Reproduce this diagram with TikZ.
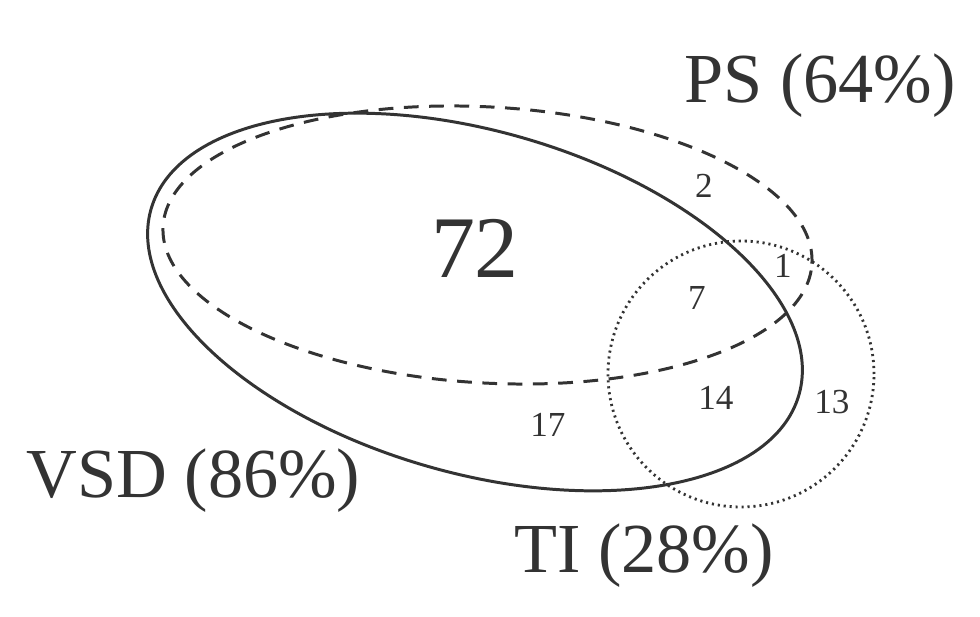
\documentclass[tikz,border=0pt]{standalone}
\usepackage{fontspec}
\setmainfont{Liberation Serif}
\usepackage{xcolor}
\usepackage{tikz}

\tikzset{
  setline/.style={black!80, line width=0.85pt},
  biglabel/.style={font=\fontsize{20}{20}\selectfont, black!80, anchor=base},
  countlabel/.style={font=\fontsize{10}{10}\selectfont, black!80, anchor=base}
}

\begin{document}
\begin{tikzpicture}[x=1cm, y=1cm]
  \useasboundingbox (0,0) rectangle (9.8,6.17);
  \draw[setline, rotate around={-16:(4.75,3.15)}] (4.75,3.15) ellipse [x radius=3.37, y radius=1.71];
  \draw[setline, dash pattern=on 4.2pt off 3pt, rotate around={-3.3:(4.875,3.72)}] (4.875,3.72) ellipse [x radius=3.25, y radius=1.38];
  \draw[setline, line width=0.8pt, dash pattern=on 0.6pt off 1.1pt] (7.41,2.43) circle [radius=1.33];
  \node[biglabel] (ps) at (8.20,5.15) {PS (64\%)};
  \node[biglabel] (vsd) at (1.935,1.19) {VSD (86\%)};
  \node[biglabel] (ti) at (6.44,0.44) {TI (28\%)};
  \node[font=\fontsize{25}{25}\selectfont, black!80, anchor=base] (n72) at (4.75,3.39) {72};
  \node[countlabel] (n2) at (7.04,4.20) {2};
  \node[countlabel] (n1) at (7.83,3.39) {1};
  \node[countlabel] (n7) at (6.97,3.07) {7};
  \node[countlabel] (n14) at (7.16,2.07) {14};
  \node[countlabel] (n13) at (8.32,2.04) {13};
  \node[countlabel] (n17) at (5.48,1.80) {17};
\end{tikzpicture}
\end{document}
